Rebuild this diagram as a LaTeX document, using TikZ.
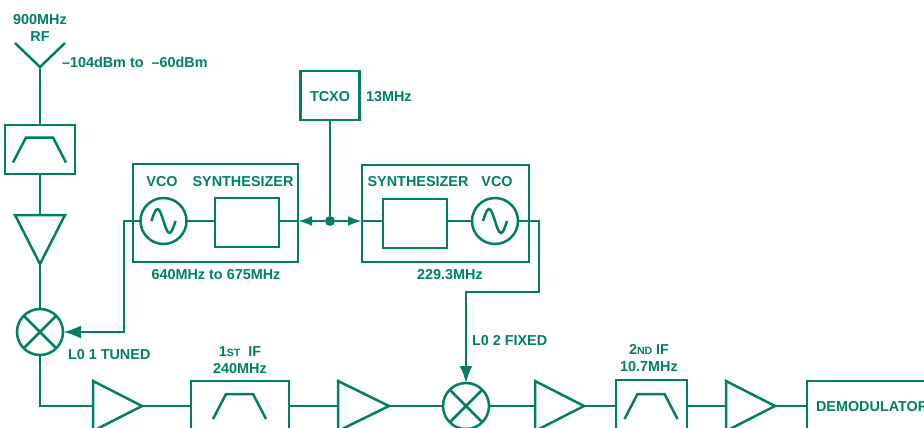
\documentclass[tikz,border=0pt]{standalone}
\usepackage{fontspec}
\setmainfont{Liberation Sans}
\usetikzlibrary{arrows.meta,shapes.geometric}
\definecolor{adigreen}{HTML}{007F66}
\tikzset{
  >={Latex[length=14pt,width=10pt]},
}
\tikzstyle{every node}=[font=\fontsize{14.4}{17}\selectfont\bfseries,text=adigreen,outer sep=0,inner sep=0]
\tikzstyle{wire}=[draw=adigreen,line width=2.5pt]
\tikzstyle{block}=[wire,rectangle]
\tikzstyle{bigtip}=[-{Latex[length=18pt,width=13pt]}]
\tikzstyle{amp}=[wire,isosceles triangle,isosceles triangle stretches,minimum width=50pt,minimum height=49pt]
\tikzstyle{mixer}=[wire,circle,minimum size=46pt,path picture={
    \draw[wire] (path picture bounding box.north west)--(path picture bounding box.south east);
    \draw[wire] (path picture bounding box.north east)--(path picture bounding box.south west);
  }]
\tikzstyle{osc}=[wire,circle,minimum size=46pt,path picture={
    \draw[wire,shift={(path picture bounding box.center)}] (-12,0) sin (-6,-12) cos (0,0) sin (6,12) cos (12,0);
  }]
\tikzstyle{passband}=[block,path picture={
    \draw[wire,shift={(path picture bounding box.center)}] (-27,13) -- (-14,-12) -- (13,-12) -- (26,13);
  }]

\begin{document}
\begin{tikzpicture}[x=1pt,y=-1pt]
  \useasboundingbox (0,0) rectangle (924,428);
  \clip (0,0) rectangle (924,428);
  % receive chain, top to bottom
  \coordinate (antenna) at (40,67);
  \coordinate (armleft) at (15,43);
  \coordinate (armright) at (65,43);
  \node[passband,minimum width=70pt,minimum height=49pt] (rffilter) at (40,149.5) {};
  \node[amp,shape border rotate=-90,anchor=apex] (lna) at (40,264) {};
  \node[mixer] (mixerone) at (40,332) {};
  \coordinate (corner) at (40,406);
  % along the bottom
  \node[amp,anchor=lower side] (ampone) at (93,406) {};
  \node[passband,minimum width=98pt,minimum height=50pt] (ifone) at (240,406) {};
  \node[amp,anchor=lower side,minimum height=51pt] (amptwo) at (338,406) {};
  \node[mixer] (mixertwo) at (466,406) {};
  \node[amp,anchor=lower side] (ampthree) at (535,406) {};
  \node[passband,minimum width=71pt,minimum height=52pt] (iftwo) at (651.5,406) {};
  \node[amp,anchor=lower side] (ampfour) at (726,406) {};
  \node[block,minimum width=160pt,minimum height=50pt,anchor=west] (demod) at (807,406) {};
  \node[anchor=west] (demodtext) at (816,407) {DEMODULATOR};
  % left synthesizer
  \node[block,minimum width=165pt,minimum height=98pt] (loopleft) at (215.5,213) {};
  \node[osc] (vcoleft) at (163.5,221) {};
  \node[block,minimum width=64pt,minimum height=49pt] (synthleft) at (247,222.5) {};
  % right synthesizer
  \node[block,minimum width=167pt,minimum height=97pt] (loopright) at (445.5,213.5) {};
  \node[block,minimum width=64pt,minimum height=49pt] (synthright) at (415,223.5) {};
  \node[osc] (vcoright) at (495,221) {};
  % reference
  \node[block,minimum width=59pt,minimum height=49pt,text height=13pt,text depth=0pt] (tcxo) at (330,95.5) {TCXO};
  \node[circle,fill=adigreen,minimum size=10pt] (junction) at (330,221) {};
  \coordinate (turnleft) at (124,221);
  \coordinate (turnright) at (539,221);
  \coordinate (turndown) at (539,292);
  \coordinate (turnin) at (466,292);
  \draw[wire] (armleft)--(antenna)--(armright);
  \draw[wire] (antenna)--(rffilter);
  \draw[wire] (rffilter)--(lna.north);
  \draw[wire] (lna.apex)--(mixerone);
  \draw[wire] (mixerone)--(corner)--(ampone.lower side);
  \draw[wire] (ampone.apex)--(ifone);
  \draw[wire] (ifone)--(amptwo.lower side);
  \draw[wire] (amptwo.apex)--(mixertwo);
  \draw[wire] (mixertwo)--(ampthree.lower side);
  \draw[wire] (ampthree.apex)--(iftwo);
  \draw[wire] (iftwo)--(ampfour.lower side);
  \draw[wire] (ampfour.apex)--(demod);
  \draw[wire] (vcoleft)--(synthleft.west |- vcoleft);
  \draw[wire] (synthleft.east |- vcoleft)--(loopleft.east |- vcoleft);
  \draw[wire] (synthright.east |- vcoright)--(vcoright);
  \draw[wire] (loopright.west |- vcoright)--(synthright.west |- vcoright);
  \draw[wire] (tcxo)--(junction);
  \draw[wire,->] (junction)--(loopleft.east |- junction);
  \draw[wire,->] (junction)--(loopright.west |- junction);
  \draw[wire,bigtip] (vcoleft)--(turnleft)--(turnleft |- mixerone)--(mixerone);
  \draw[wire,-{Latex[length=17pt,width=13pt]}] (vcoright)--(turnright)--(turndown)--(turnin)--(mixertwo);
  % labels
  \node[align=center] (rflabel) at (40,27.5) {900MHz\\RF};
  \node[anchor=west] (rflevel) at (62,62) {–104dBm to \ –60dBm};
  \node (vcotextleft) at (162,181.5) {VCO};
  \node (synthtextleft) at (243,181.5) {SYNTHESIZER};
  \node (tuneleft) at (216,274.5) {640MHz to 675MHz};
  \node (synthtextright) at (418,181.5) {SYNTHESIZER};
  \node (vcotextright) at (497,181.5) {VCO};
  \node (tuneright) at (450,274.5) {229.3MHz};
  \node[anchor=west] (tcxofreq) at (366,97) {13MHz};
  \node[anchor=west] (lotuned) at (68,355) {L0 1 TUNED};
  \node[anchor=west] (lofixed) at (472,341) {L0 2 FIXED};
  \node[align=center] (iflabelone) at (240,360.5) {1{\fontsize{10.5}{17}\selectfont ST} \ IF\\240MHz};
  \node[align=center] (iflabeltwo) at (649,358.5) {2{\fontsize{10.5}{17}\selectfont ND} IF\\10.7MHz};
\end{tikzpicture}
\end{document}
